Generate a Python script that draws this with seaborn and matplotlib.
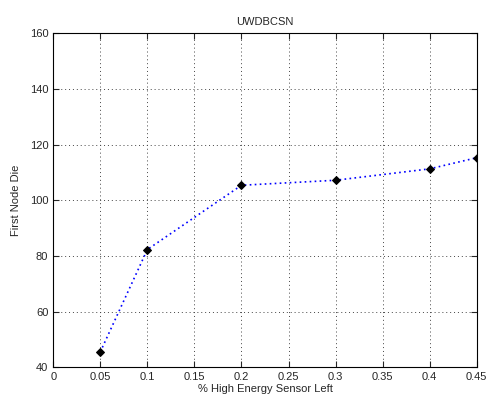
import numpy as np
import pandas as pd
import matplotlib
matplotlib.use('Agg')
import matplotlib.pyplot as plt
import seaborn as sns

# data
sensor_left = [0.05, 0.1, 0.2, 0.3, 0.4, 0.45]
first_node_die = [45.5, 82.3, 105.4, 107.2, 111.3, 115.3]
x_ticks = [0, 0.05, 0.1, 0.15, 0.2, 0.25, 0.3, 0.35, 0.4, 0.45]
x_tick_labels = ['0', '0.05', '0.1', '0.15', '0.2', '0.25', '0.3', '0.35', '0.4', '0.45']
y_ticks = [40, 60, 80, 100, 120, 140, 160]

df = pd.DataFrame({'x': sensor_left, 'y': first_node_die})

sns.set_style('ticks')
plt.rcParams['font.family'] = ['Liberation Sans', 'DejaVu Sans']
plt.rcParams['font.size'] = 8

fig = plt.figure(figsize=(4.88, 4.01), dpi=100)
ax = fig.add_axes([0.109, 0.084, 0.868, 0.833])

sns.lineplot(data=df, x='x', y='y', ax=ax, color='blue', linestyle=(0, (1, 2)),
             linewidth=1.2, marker='D', markersize=4.5, markerfacecolor='black',
             markeredgecolor='black')

ax.set_xlim(0, 0.45)
ax.set_ylim(40, 160)
ax.set_xticks(x_ticks)
ax.set_xticklabels(x_tick_labels)
ax.set_yticks(y_ticks)
ax.grid(True, linestyle=(0, (1, 3)), color='#444444', linewidth=0.7)
ax.tick_params(direction='in', length=4, labelsize=8, top=True, right=True,
               labeltop=False, labelright=False)
for sp in ax.spines.values():
    sp.set_visible(True)
    sp.set_color('black')
    sp.set_linewidth(0.8)

ax.set_title('UWDBCSN', fontsize=8, pad=6)
ax.set_xlabel('% High Energy Sensor Left', fontsize=8, labelpad=1)
ax.set_ylabel('First Node Die', fontsize=8, labelpad=6)

fig.savefig('out.png', dpi=100)
